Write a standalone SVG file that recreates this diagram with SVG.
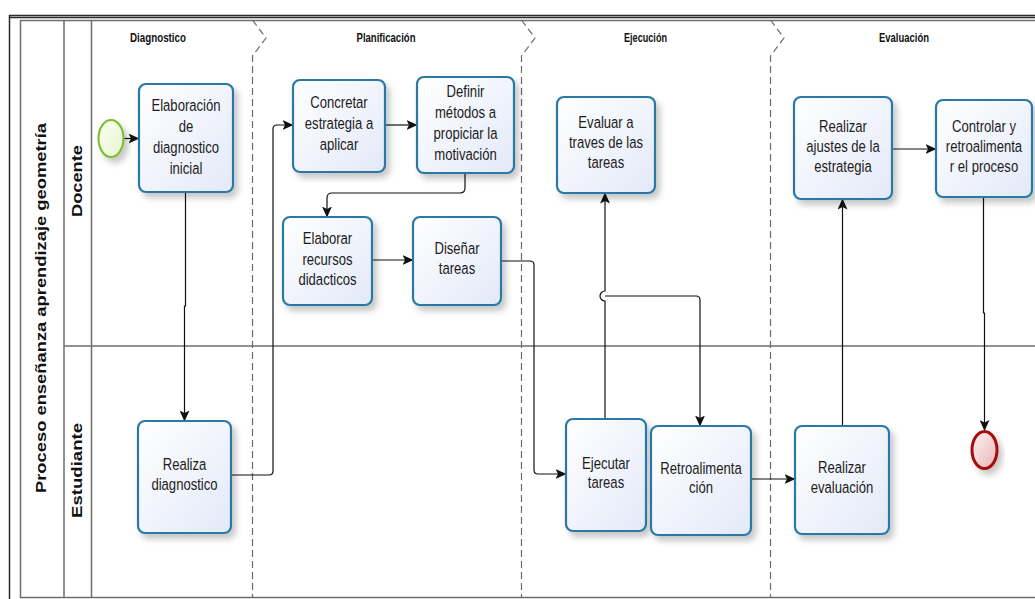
<svg xmlns="http://www.w3.org/2000/svg" width="1035" height="599" viewBox="0 0 1035 599">
<style>
.frame{fill:none;stroke:#2b2b2b;stroke-width:1.5}
.lane{fill:none;stroke:#6e6e6e;stroke-width:1.5}
.phase{fill:none;stroke:#6a6a6a;stroke-width:1.2;stroke-dasharray:7 4}
.ph{font-family:"Liberation Sans",Arial,sans-serif;font-weight:bold;font-size:12px;fill:#111;text-anchor:middle}
.lbl{font-family:"Liberation Sans",Arial,sans-serif;font-weight:bold;font-size:14.5px;fill:#111;text-anchor:middle}
.task rect{fill:url(#tg);stroke:#2a78a6;stroke-width:2.2;filter:url(#sh)}
.task text{font-family:"Liberation Sans",Arial,sans-serif;font-size:17px;fill:#1c1c1c;text-anchor:middle}
.conn path{fill:none;stroke:#111;stroke-width:1.2}
.conn .a{marker-end:url(#arr)}
</style>
<defs>
<linearGradient id="tg" x1="0" y1="0" x2="1" y2="1">
<stop offset="0" stop-color="#ffffff"/>
<stop offset="1" stop-color="#e3e9f8"/>
</linearGradient>
<linearGradient id="sg" x1="0" y1="0" x2="1" y2="1">
<stop offset="0" stop-color="#fbfff2"/>
<stop offset="1" stop-color="#e6f5cf"/>
</linearGradient>
<linearGradient id="eg" x1="0" y1="0" x2="1" y2="1">
<stop offset="0" stop-color="#fdf3f3"/>
<stop offset="1" stop-color="#e9b4b4"/>
</linearGradient>
<filter id="sh" x="-20%" y="-20%" width="150%" height="150%">
<feDropShadow dx="4" dy="5" stdDeviation="3" flood-color="#000" flood-opacity="0.22"/>
</filter>
<marker id="arr" markerWidth="11" markerHeight="10" refX="10.5" refY="5" orient="auto" markerUnits="userSpaceOnUse">
<path d="M0,0 L11,5 L0,10 L2.5,5 z" fill="#111"/>
</marker>
</defs>

<g id="pool">
<rect class="frame" x="9.5" y="15.5" width="1040" height="600"/>
<line class="frame" x1="9.5" y1="17.5" x2="1035" y2="17.5"/>
<rect class="lane" x="20.5" y="20.5" width="1030" height="577"/>
<line class="lane" x1="64" y1="20.5" x2="64" y2="597.5"/>
<line class="lane" x1="91.5" y1="20.5" x2="91.5" y2="597.5"/>
<line class="lane" x1="64" y1="346" x2="1035" y2="346"/>
<text class="lbl" transform="translate(46,308) rotate(-90)" textLength="370" lengthAdjust="spacingAndGlyphs">Proceso enseñanza aprendizaje geometría</text>
</g>
<g id="lane-docente">
<text class="lbl" transform="translate(82,181) rotate(-90)" textLength="72" lengthAdjust="spacingAndGlyphs">Docente</text>
</g>
<g id="lane-estudiante">
<text class="lbl" transform="translate(82,470.5) rotate(-90)" textLength="95" lengthAdjust="spacingAndGlyphs">Estudiante</text>
</g>

<g id="phases">
<path class="phase" d="M252.5 20 L266 38 L252.5 56 V598"/>
<path class="phase" d="M521.5 20 L535 38 L521.5 56 V598"/>
<path class="phase" d="M770.5 20 L784 38 L770.5 56 V598"/>
<text class="ph" x="158" y="42" textLength="56" lengthAdjust="spacingAndGlyphs">Diagnostico</text>
<text class="ph" x="386" y="42" textLength="59" lengthAdjust="spacingAndGlyphs">Planificación</text>
<text class="ph" x="645.5" y="42" textLength="43" lengthAdjust="spacingAndGlyphs">Ejecución</text>
<text class="ph" x="904" y="42" textLength="50" lengthAdjust="spacingAndGlyphs">Evaluación</text>
</g>

<g id="connectors" class="conn">
<path class="a" d="M124 138.5 H139"/>
<path class="a" d="M185.5 192 V306 H184.5 V421"/>
<path class="a" d="M231 475 H269 Q273 475 273 471 V129 Q273 125 277 125 H293"/>
<path class="a" d="M385 125 H417"/>
<path class="a" d="M465 173 V188 Q465 193 460 193 H332 Q327 193 327 198 V217"/>
<path class="a" d="M372 260 H413"/>
<path class="a" d="M501 261 H530 Q534 261 534 265 V470 Q534 474 538 474 H566"/>
<path class="a" d="M605 419 V301 A5 5 0 0 1 605 291 V193"/>
<path class="a" d="M605 296 H696 Q700 296 700 300 V426"/>
<path class="a" d="M751 479 H795"/>
<path class="a" d="M842.5 426 V199"/>
<path class="a" d="M892 149 H936"/>
<path class="a" d="M983.5 197 V313 H984.5 V430.5"/>
</g>

<g id="start">
<ellipse cx="111" cy="138.5" rx="12.5" ry="18.5" fill="url(#sg)" stroke="#7dbb2d" stroke-width="2" filter="url(#sh)"/>
</g>
<g id="end">
<ellipse cx="984.5" cy="450" rx="12.5" ry="18.5" fill="url(#eg)" stroke="#a50f0f" stroke-width="3" filter="url(#sh)"/>
</g>

<g id="t1" class="task">
<rect x="139" y="84" width="94" height="108" rx="7"/>
<text transform="matrix(0.77,0,0,1,42.78,0)"><tspan x="186" y="111">Elaboración</tspan><tspan x="186" y="132">de</tspan><tspan x="186" y="153">diagnostico</tspan><tspan x="186" y="174">inicial</tspan></text>
</g>
<g id="t2" class="task">
<rect x="293" y="80" width="92" height="92" rx="7"/>
<text transform="matrix(0.77,0,0,1,77.97,0)"><tspan x="339" y="108">Concretar</tspan><tspan x="339" y="129">estrategia a</tspan><tspan x="339" y="150">aplicar</tspan></text>
</g>
<g id="t3" class="task">
<rect x="417" y="77" width="97" height="96" rx="7"/>
<text transform="matrix(0.77,0,0,1,107.07,0)"><tspan x="465.5" y="97">Definir</tspan><tspan x="465.5" y="118">métodos a</tspan><tspan x="465.5" y="139">propiciar la</tspan><tspan x="465.5" y="160">motivación</tspan></text>
</g>
<g id="t4" class="task">
<rect x="557" y="97" width="98" height="96" rx="7"/>
<text transform="matrix(0.77,0,0,1,139.38,0)"><tspan x="606" y="128">Evaluar a</tspan><tspan x="606" y="148">traves de las</tspan><tspan x="606" y="168.5">tareas</tspan></text>
</g>
<g id="t5" class="task">
<rect x="794" y="97" width="98" height="102" rx="7"/>
<text transform="matrix(0.77,0,0,1,193.89,0)"><tspan x="843" y="132">Realizar</tspan><tspan x="843" y="152">ajustes de la</tspan><tspan x="843" y="172">estrategia</tspan></text>
</g>
<g id="t6" class="task">
<rect x="936" y="100" width="96" height="97" rx="7"/>
<text transform="matrix(0.77,0,0,1,226.32,0)"><tspan x="984" y="132">Controlar y</tspan><tspan x="984" y="152.5">retroalimenta</tspan><tspan x="984" y="172.5">r el proceso</tspan></text>
</g>
<g id="t7" class="task">
<rect x="283" y="217" width="89" height="88" rx="7"/>
<text transform="matrix(0.77,0,0,1,75.33,0)"><tspan x="327.5" y="244">Elaborar</tspan><tspan x="327.5" y="265">recursos</tspan><tspan x="327.5" y="285">didacticos</tspan></text>
</g>
<g id="t8" class="task">
<rect x="413" y="217" width="88" height="88" rx="7"/>
<text transform="matrix(0.77,0,0,1,105.11,0)"><tspan x="457" y="254">Diseñar</tspan><tspan x="457" y="274.5">tareas</tspan></text>
</g>
<g id="t9" class="task">
<rect x="138" y="421" width="93" height="112" rx="7"/>
<text transform="matrix(0.77,0,0,1,42.44,0)"><tspan x="184.5" y="470">Realiza</tspan><tspan x="184.5" y="490">diagnostico</tspan></text>
</g>
<g id="t10" class="task">
<rect x="566" y="419" width="80" height="112" rx="7"/>
<text transform="matrix(0.77,0,0,1,139.38,0)"><tspan x="606" y="469">Ejecutar</tspan><tspan x="606" y="488.5">tareas</tspan></text>
</g>
<g id="t11" class="task">
<rect x="651" y="426" width="100" height="109" rx="7"/>
<text transform="matrix(0.77,0,0,1,161.23,0)"><tspan x="701" y="474">Retroalimenta</tspan><tspan x="701" y="493.5">ción</tspan></text>
</g>
<g id="t12" class="task">
<rect x="795" y="426" width="94" height="108" rx="7"/>
<text transform="matrix(0.77,0,0,1,193.66,0)"><tspan x="842" y="473.5">Realizar</tspan><tspan x="842" y="493.5">evaluación</tspan></text>
</g>
</svg>
